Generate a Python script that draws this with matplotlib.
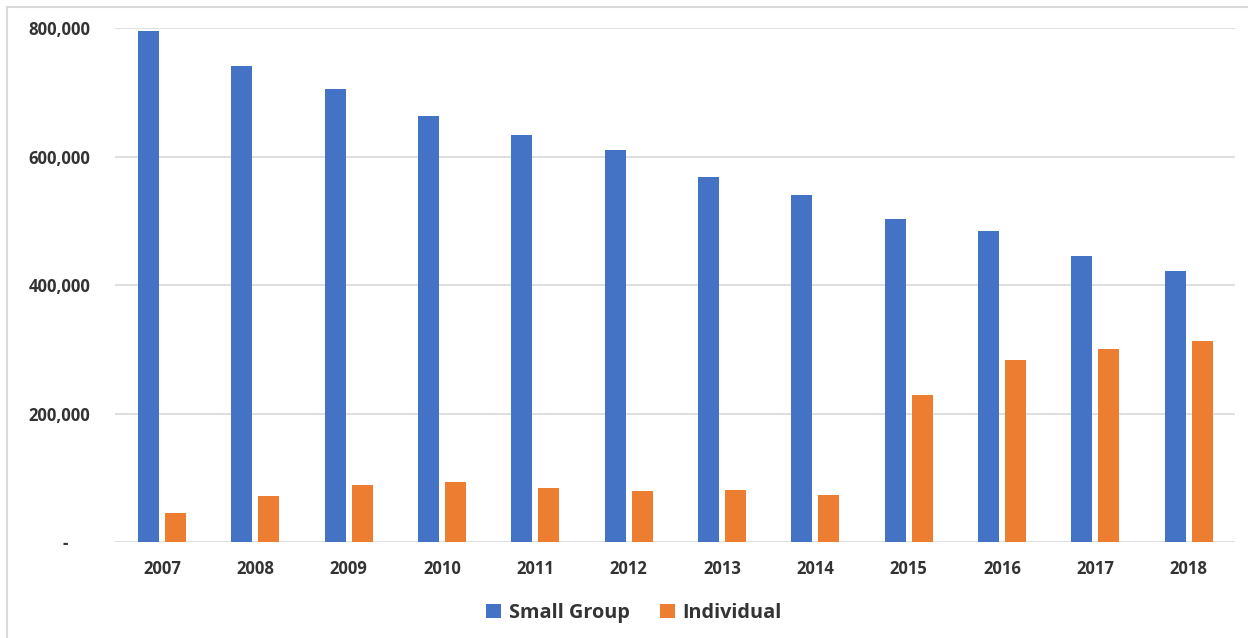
import matplotlib.pyplot as plt
from matplotlib.lines import Line2D
import numpy as np

years = ['2007', '2008', '2009', '2010', '2011', '2012',
         '2013', '2014', '2015', '2016', '2017', '2018']
small_group = [796000, 742000, 705000, 664000, 634000, 611000,
               569000, 541000, 503000, 485000, 445000, 423000]
individual = [45000, 72000, 89000, 94000, 85000, 80000,
              82000, 73000, 230000, 284000, 301000, 313000]
y_ticks = [0, 200000, 400000, 600000, 800000]
y_tick_labels = ['-     ', '200,000', '400,000', '600,000', '800,000']

plt.rcParams['font.family'] = ['Open Sans', 'DejaVu Sans']
text_color = '#333333'
grid_color = '#D9D9D9'

fig = plt.figure(figsize=(12.48, 6.38), dpi=100)
ax = fig.add_axes([0.0925, 0.15, 0.8974, 0.8056])

x = np.arange(len(years))
w = 0.225
off = 0.145
ax.bar(x - off, small_group, w, color='#4472C4', label='Small Group', zorder=3)
ax.bar(x + off, individual, w, color='#ED7D31', label='Individual', zorder=3)

ax.set_xlim(-0.5, len(years) - 0.5)
ax.set_ylim(0, 800000)
ax.set_yticks(y_ticks)
ax.set_yticklabels(y_tick_labels)
ax.set_xticks(x)
ax.set_xticklabels(years)
ax.yaxis.grid(True, color=grid_color, linewidth=1.2, zorder=0)
ax.set_axisbelow(True)
for s in ['top', 'right', 'left', 'bottom']:
    ax.spines[s].set_visible(False)
ax.tick_params(axis='y', length=0, pad=18, labelsize=12, labelcolor=text_color)
ax.tick_params(axis='x', length=0, pad=13, labelsize=12, labelcolor=text_color)
for lbl in ax.get_xticklabels() + ax.get_yticklabels():
    lbl.set_fontweight('bold')

leg = fig.legend(loc='center', bbox_to_anchor=(0.508, 0.039), ncol=2, frameon=False,
                 handlelength=0.75, handleheight=0.75, handletextpad=0.4,
                 columnspacing=1.5, prop={'size': 14.3, 'weight': 'bold'})
for t in leg.get_texts():
    t.set_color(text_color)

# light frame of the chart area (only top and left edges show)
W, H = 1248, 638
fig.add_artist(Line2D([7 / W, 1], [1 - 7 / H, 1 - 7 / H], transform=fig.transFigure,
                      color=grid_color, linewidth=1.5))
fig.add_artist(Line2D([7 / W, 7 / W], [0, 1 - 7 / H], transform=fig.transFigure,
                      color=grid_color, linewidth=1.5))

fig.savefig('out.png', dpi=100)
